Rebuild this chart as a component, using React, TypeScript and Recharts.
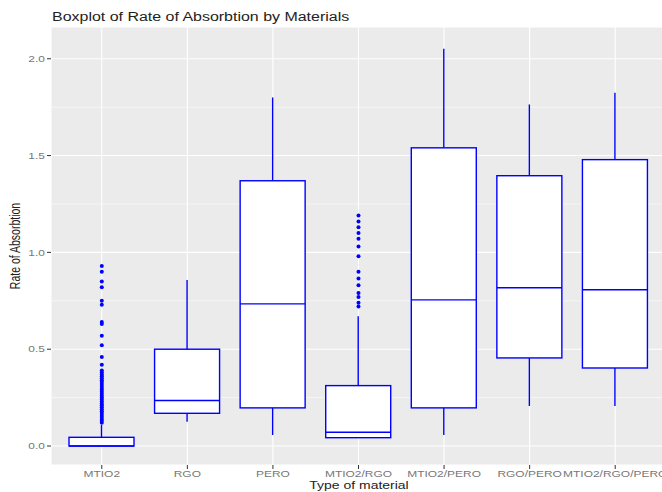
import React from 'react';
import {
  ComposedChart,
  Bar,
  Scatter,
  XAxis,
  YAxis,
  CartesianGrid,
} from 'recharts';

const CATEGORIES = [
  'MTIO2',
  'RGO',
  'PERO',
  'MTIO2/RGO',
  'MTIO2/PERO',
  'RGO/PERO',
  'MTIO2/RGO/PERO',
];
const WHISKER_LOW = [0.0, 0.126, 0.057, 0.043, 0.057, 0.207, 0.207];
const Q1 = [0.0, 0.169, 0.197, 0.043, 0.197, 0.455, 0.403];
const MEDIAN = [0.0, 0.235, 0.734, 0.071, 0.755, 0.817, 0.807];
const Q3 = [0.045, 0.5, 1.37, 0.312, 1.54, 1.396, 1.479];
const WHISKER_HIGH = [0.109, 0.857, 1.8, 0.67, 2.052, 1.764, 1.824];

const OUTLIERS_MTIO2 = [
  0.12, 0.13, 0.14, 0.15, 0.16, 0.17, 0.18, 0.19, 0.2, 0.21, 0.22, 0.23,
  0.24, 0.25, 0.26, 0.27, 0.28, 0.29, 0.3, 0.31, 0.32, 0.33, 0.34, 0.35,
  0.36, 0.37, 0.38, 0.39, 0.42, 0.46, 0.52, 0.57, 0.63, 0.64, 0.73, 0.75,
  0.82, 0.85, 0.9, 0.93,
];
const OUTLIERS_MTIO2_RGO = [
  0.72, 0.74, 0.77, 0.79, 0.83, 0.865, 0.9, 0.98, 1.03, 1.07, 1.1, 1.13,
  1.16, 1.19,
];

const Y_TICKS = [0, 0.5, 1, 1.5, 2];
const Y_MINOR = [0.25, 0.75, 1.25, 1.75];

const BLUE = '#0000ff';
const FONT = '"Liberation Sans", Arial, sans-serif';
const STRETCH = 1.33;

const boxData = CATEGORIES.map((name, i) => ({
  name,
  range: [WHISKER_LOW[i], WHISKER_HIGH[i]],
  low: WHISKER_LOW[i],
  q1: Q1[i],
  median: MEDIAN[i],
  q3: Q3[i],
  high: WHISKER_HIGH[i],
}));

const outlierData = [
  ...OUTLIERS_MTIO2.map((value) => ({ name: 'MTIO2', value })),
  ...OUTLIERS_MTIO2_RGO.map((value) => ({ name: 'MTIO2/RGO', value })),
];

// box drawn inside the whisker range bar; inner values mapped linearly
const BoxShape = (props: any) => {
  const { x, y, width, height, payload } = props;
  const top = Math.min(y, y + height);
  const bottom = Math.max(y, y + height);
  const { low, high, q1, median, q3 } = payload;
  const toPx = (v: number) =>
    high === low ? bottom : bottom - ((v - low) / (high - low)) * (bottom - top);
  const cx = x + width / 2;
  const yq1 = toPx(q1);
  const yq3 = toPx(q3);
  const ymed = toPx(median);
  return (
    <g>
      <line x1={cx} x2={cx} y1={top} y2={yq3} stroke={BLUE} strokeWidth={1.4} />
      <line x1={cx} x2={cx} y1={yq1} y2={bottom} stroke={BLUE} strokeWidth={1.4} />
      <rect
        x={x}
        y={yq3}
        width={width}
        height={Math.max(yq1 - yq3, 0.5)}
        fill="#fff"
        stroke={BLUE}
        strokeWidth={1.4}
      />
      <line x1={x} x2={x + width} y1={ymed} y2={ymed} stroke={BLUE} strokeWidth={1.4} />
    </g>
  );
};

const YTick = (props: any) => {
  const { x, y, payload } = props;
  return (
    <g transform={`translate(${x},${y})`}>
      <text
        transform={`scale(${STRETCH},1)`}
        textAnchor="end"
        dy="0.35em"
        fontSize={9}
        fontFamily={FONT}
        fill="#777"
      >
        {Number(payload.value).toFixed(1)}
      </text>
    </g>
  );
};

const XTick = (props: any) => {
  const { x, y, payload } = props;
  return (
    <g transform={`translate(${x},${y})`}>
      <text
        transform={`scale(${STRETCH},1)`}
        textAnchor="middle"
        dy="0.71em"
        fontSize={9}
        fontFamily={FONT}
        fill="#777"
      >
        {payload.value}
      </text>
    </g>
  );
};

export default function App() {
  return (
    <div
      style={{
        position: 'absolute',
        left: 0,
        top: 0,
        width: 662,
        height: 492,
        overflow: 'hidden',
        background: '#fff',
        fontFamily: FONT,
      }}
    >
      <div
        style={{
          position: 'absolute',
          left: 52,
          top: 11,
          fontSize: 12,
          lineHeight: '12px',
          color: '#222',
          whiteSpace: 'nowrap',
          transform: `scaleX(${STRETCH})`,
          transformOrigin: 'left center',
        }}
      >
        Boxplot of Rate of Absorbtion by Materials
      </div>

      <ComposedChart
        width={670}
        height={492}
        data={boxData}
        margin={{ top: 27, right: 4, bottom: 0, left: 0 }}
      >
        <CartesianGrid fill="#ebebeb" fillOpacity={1} stroke="#fff" strokeWidth={1.1} />
        <CartesianGrid
          horizontalValues={Y_MINOR}
          vertical={false}
          stroke="#fff"
          strokeWidth={0.55}
        />
        <XAxis
          dataKey="name"
          type="category"
          allowDuplicatedCategory={false}
          padding={{ left: 8, right: 8 }}
          height={27}
          axisLine={false}
          tickLine={{ stroke: '#333' }}
          tickSize={4}
          tickMargin={2}
          interval={0}
          tick={<XTick />}
        />
        <YAxis
          type="number"
          domain={[-0.098, 2.164]}
          ticks={Y_TICKS}
          width={51}
          axisLine={false}
          tickLine={{ stroke: '#333' }}
          tickSize={4}
          tickMargin={2}
          tick={<YTick />}
        />
        <Bar
          dataKey="range"
          barSize={65}
          shape={<BoxShape />}
          isAnimationActive={false}
        />
        <Scatter
          data={outlierData}
          dataKey="value"
          isAnimationActive={false}
          shape={(p: any) => <circle cx={p.cx} cy={p.cy} r={2} fill={BLUE} />}
        />
      </ComposedChart>

      <div
        style={{
          position: 'absolute',
          left: 359,
          top: 480,
          fontSize: 10.5,
          lineHeight: '11px',
          color: '#222',
          whiteSpace: 'nowrap',
          transform: `translateX(-50%) scaleX(${STRETCH})`,
        }}
      >
        Type of material
      </div>
      <div
        style={{
          position: 'absolute',
          left: 15,
          top: 246,
          fontSize: 10.5,
          lineHeight: '11px',
          color: '#222',
          whiteSpace: 'nowrap',
          transform: `translate(-50%, -50%) rotate(-90deg) scaleY(${STRETCH})`,
        }}
      >
        Rate of Absorbtion
      </div>
    </div>
  );
}
